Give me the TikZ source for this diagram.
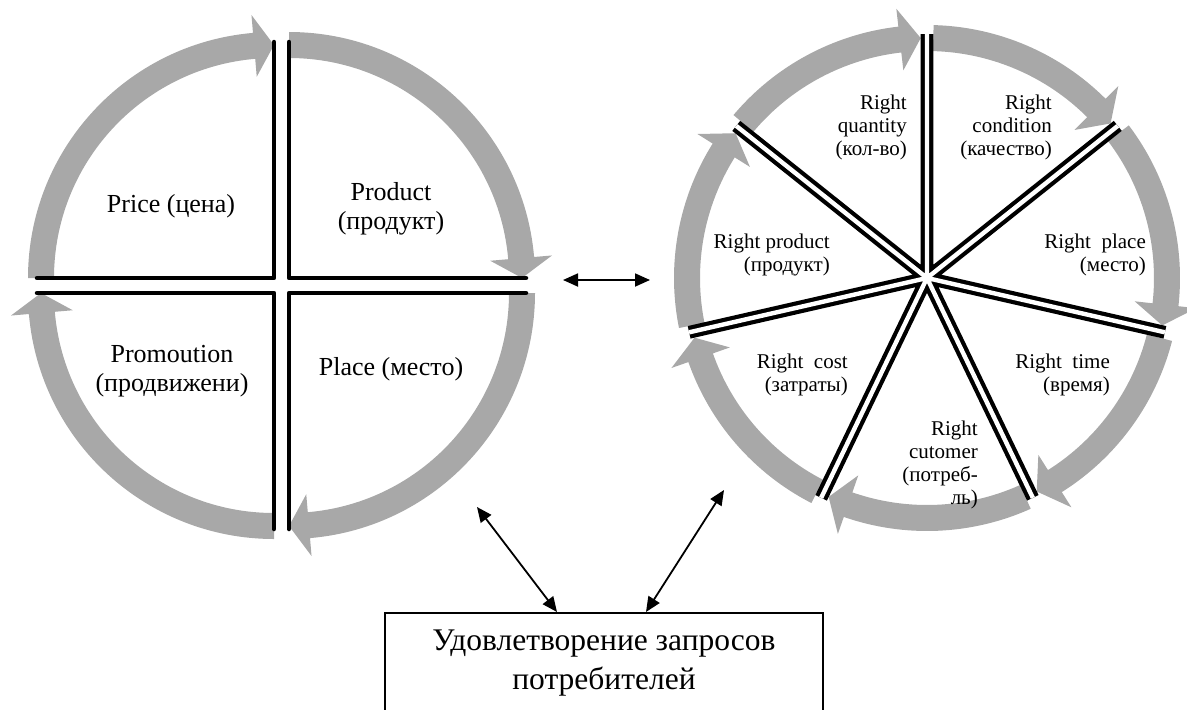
\documentclass[tikz,border=0pt]{standalone}
\usepackage{fontspec}
\setmainfont{Liberation Serif}
\usetikzlibrary{arrows.meta}

\definecolor{ringgray}{RGB}{168,168,168}

% block arrow on a ring: centre, mean radius, tail angle, tip angle, head angle
\newcommand{\ringarrow}[5]{%
  \fill[ringgray, shift={(#1)}] (#3:#2+13) arc[start angle=#3, end angle=#4+#5, radius=#2+13]
    -- (#4+#5:#2+31) -- (#4:#2) -- (#4+#5:#2-31) -- (#4+#5:#2-13)
    arc[start angle=#4+#5, end angle=#3, radius=#2-13] -- cycle;}

\begin{document}
\begin{tikzpicture}[x=1pt,y=1pt]
\tikzstyle{every node}+=[inner sep=0pt]
\tikzstyle{quad}=[black, line width=4.5pt, line cap=round, line join=round]
\tikzstyle{spoke}=[black, double=white, line width=4.2pt, double distance=4.4pt]
\tikzstyle{quadtext}=[align=center, font=\fontsize{26}{28.5}\selectfont]
\tikzstyle{wheeltext}=[align=right, anchor=east, font=\fontsize{21}{23}\selectfont]
\tikzstyle{goalbox}=[draw, line width=1.5pt, anchor=north, minimum width=438pt, inner ysep=17pt, align=center, font=\fontsize{31.5}{39}\selectfont]
\tikzstyle{twoway}=[{Triangle[length=15pt,width=13pt]}-{Triangle[length=15pt,width=13pt]}, line width=1.8pt]
\useasboundingbox (0,0) rectangle (1187,-710);
\clip (0,0) rectangle (1187,-710);
% four P ring
\ringarrow{274,-278}{233}{180}{90}{4.9}
\ringarrow{289,-278}{233}{90}{0}{4.9}
\ringarrow{289,-293}{233}{0}{-90}{4.9}
\ringarrow{274,-293}{233}{-90}{-180}{4.9}
\draw[quad] (37,-278) -- (274,-278) -- (274,-42);
\draw[quad] (526,-278) -- (289,-278) -- (289,-42);
\draw[quad] (526,-293) -- (289,-293) -- (289,-529);
\draw[quad] (37,-293) -- (274,-293) -- (274,-529);
\node (price) [quadtext] at (171,-206) {Price (цена)};
\node (product) [quadtext] at (391,-209) {Product\\(продукт)};
\node (promo) [quadtext] at (172,-371) {Promoution\\(продвижени)};
\node (place) [quadtext] at (391,-369) {Place (место)};
% seven R wheel
\ringarrow{927,-278}{240}{88.5}{40.1}{5}
\ringarrow{927,-278}{240}{37.1}{-11.4}{5}
\ringarrow{927,-278}{240}{-14.4}{-62.8}{5}
\ringarrow{927,-278}{240}{-65.8}{-114.2}{5}
\ringarrow{927,-278}{240}{-117.2}{-165.6}{5}
\ringarrow{927,-278}{240}{-168.6}{-217.1}{5}
\ringarrow{927,-278}{240}{-220.1}{-268.5}{5}
\coordinate (hub) at (927,-278);
\draw[spoke] (hub) -- ++(90:244) (hub) -- ++(38.57:244) (hub) -- ++(-12.86:244)
  (hub) -- ++(-64.29:244) (hub) -- ++(-115.71:244) (hub) -- ++(-167.14:244)
  (hub) -- ++(141.43:244);
\node (quantity) [wheeltext] at (907,-127) {Right\\quantity\\(кол-во)};
\node (condition) [wheeltext] at (1052,-127) {Right\\condition\\(качество)};
\node (rproduct) [wheeltext] at (830,-255) {Right product\\(продукт)};
\node (rplace) [wheeltext] at (1146,-255) {Right~ place\\(место)};
\node (cost) [wheeltext] at (848,-375) {Right~ cost\\(затраты)};
\node (time) [wheeltext] at (1110,-375) {Right~ time\\(время)};
\node (customer) [wheeltext] at (978,-465) {Right\\cutomer\\(потреб-\\ль)};
% links
\node (goal) [goalbox] at (604,-612) {Удовлетворение запросов\\потребителей\\\rule{0pt}{80pt}};
\coordinate (ringend) at (563,-280);
\coordinate (wheelend) at (650,-280);
\coordinate (ringfoot) at (477,-507);
\coordinate (wheelfoot) at (724,-490);
\draw[twoway] (ringend) -- (wheelend);
\draw[twoway] (ringfoot) -- ([xshift=-47pt]goal.north);
\draw[twoway] ([xshift=42pt]goal.north) -- (wheelfoot);
\end{tikzpicture}
\end{document}
